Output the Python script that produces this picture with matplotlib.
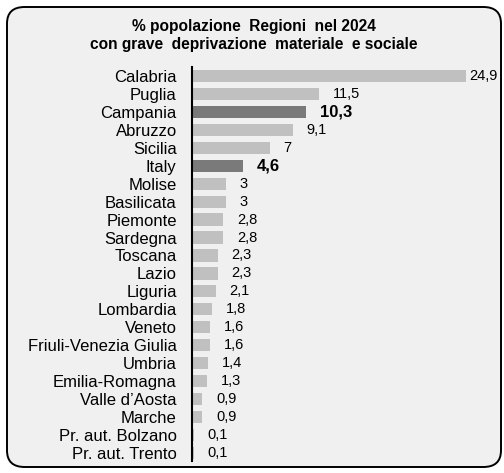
import matplotlib
matplotlib.use('Agg')
import matplotlib.pyplot as plt
from matplotlib.patches import FancyBboxPatch

plt.rcParams['font.family'] = ['Liberation Sans', 'DejaVu Sans']

regions = ['Calabria', 'Puglia', 'Campania', 'Abruzzo', 'Sicilia', 'Italy',
           'Molise', 'Basilicata', 'Piemonte', 'Sardegna', 'Toscana', 'Lazio',
           'Liguria', 'Lombardia', 'Veneto', 'Friuli-Venezia Giulia', 'Umbria',
           'Emilia-Romagna', "Valle d\u2019Aosta", 'Marche', 'Pr. aut. Bolzano',
           'Pr. aut. Trento']
values = [24.9, 11.5, 10.3, 9.1, 7, 4.6, 3, 3, 2.8, 2.8, 2.3, 2.3, 2.1, 1.8,
          1.6, 1.6, 1.4, 1.3, 0.9, 0.9, 0.1, 0.1]
highlight = ['Campania', 'Italy']

W, H = 504, 473
fig = plt.figure(figsize=(W / 100, H / 100), dpi=100)
fig.patch.set_facecolor('white')

# rounded frame, kept behind the axes
box = FancyBboxPatch((7 / W, 6 / H), 494 / W, 460 / H,
                     boxstyle='round,pad=0,rounding_size=0.035',
                     transform=fig.transFigure, facecolor='#f0f0f0',
                     edgecolor='black', linewidth=1.4, zorder=-5)
fig.patches.append(box)

fig.text(254 / W, 1 - 27 / H, '% popolazione  Regioni  nel 2024',
         ha='center', va='center', fontsize=11.2, fontweight='bold')
fig.text(254 / W, 1 - 45 / H, 'con grave  deprivazione  materiale  e sociale',
         ha='center', va='center', fontsize=11.2, fontweight='bold')

ax_l, ax_r, ax_t, ax_b = 192, 478, 67, 461
ax = fig.add_axes([ax_l / W, 1 - ax_b / H, (ax_r - ax_l) / W, (ax_b - ax_t) / H])
ax.set_facecolor('none')
ax.set_zorder(2)

y = list(range(len(regions)))
colors = ['#7a7a7a' if r in highlight else '#c0c0c0' for r in regions]
ax.barh(y, values, height=0.68, color=colors, left=0.05)
ax.set_xlim(0, 26)
ax.set_ylim(21.45, -0.5)

for sp in ['top', 'right', 'bottom']:
    ax.spines[sp].set_visible(False)
ax.spines['left'].set_linewidth(1.5)
ax.set_xticks([])
ax.set_yticks(y)
ax.set_yticklabels(regions, fontsize=12)
ax.tick_params(axis='y', length=0, pad=11)

for yi, v, r in zip(y, values, regions):
    txt = f'{v:g}'.replace('.', ',')
    xpos = min(v + 1.3, 25.25)
    if r in highlight:
        ax.text(xpos, yi, txt, va='center', ha='left', fontsize=12, fontweight='bold')
    else:
        ax.text(xpos, yi, txt, va='center', ha='left', fontsize=10.5)

fig.savefig('out.png', dpi=100)
